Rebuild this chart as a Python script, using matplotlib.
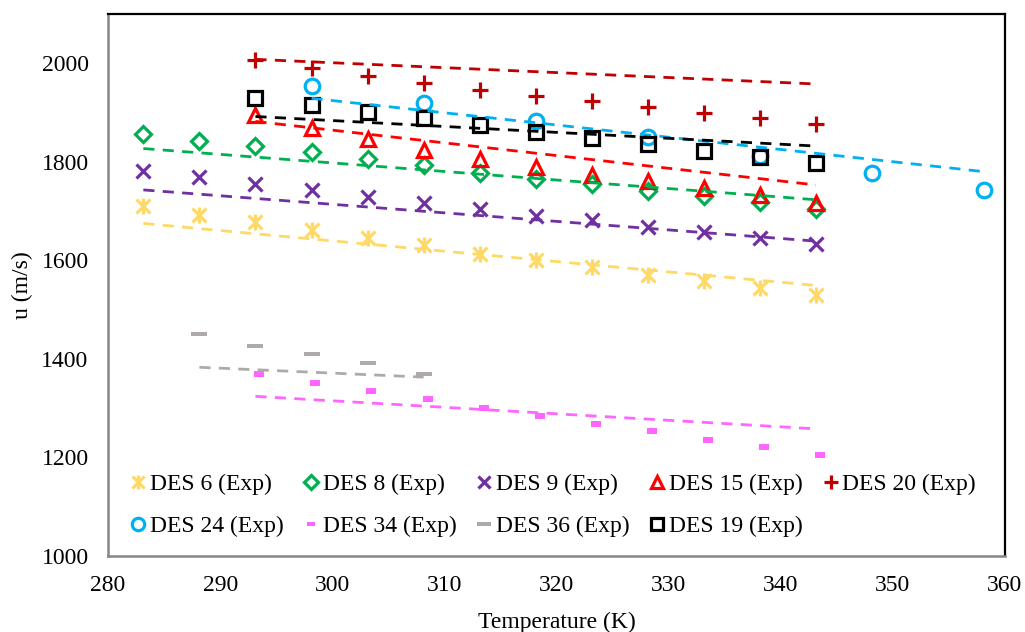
import matplotlib
matplotlib.use("Agg")
import matplotlib.pyplot as plt

plt.rcParams['font.family'] = ['Liberation Serif', 'DejaVu Serif']

# temperatures (K)
T13 = [283.15, 288.15, 293.15, 298.15, 303.15, 308.15, 313.15, 318.15,
       323.15, 328.15, 333.15, 338.15, 343.15]
T11 = T13[2:]
T_des24 = [298.15, 308.15, 318.15, 328.15, 338.15, 348.15, 358.15]
T_des34 = [293.5, 298.5, 303.5, 308.5, 313.5, 318.5, 323.5, 328.5, 333.5, 338.5, 343.5]
T_des36 = [288.15, 293.15, 298.15, 303.15, 308.15]

# measured speed of sound (m/s)
u_des6 = [1710, 1693, 1677, 1661, 1646, 1632, 1612, 1600, 1587, 1571, 1558, 1544, 1529]
u_des8 = [1856, 1843, 1832, 1819, 1805, 1793, 1778, 1766, 1754, 1741, 1730, 1718, 1705]
u_des9 = [1781, 1769, 1756, 1743, 1729, 1717, 1705, 1691, 1681, 1667, 1658, 1646, 1634]
u_des15 = [1896, 1869, 1846, 1824, 1805, 1790, 1774, 1761, 1746, 1732, 1716]
u_des20 = [2007, 1990, 1974, 1959, 1946, 1934, 1923, 1912, 1900, 1888, 1876]
u_des24 = [1953, 1919, 1883, 1851, 1811, 1777, 1742]
u_des34 = [1369, 1352, 1334, 1318, 1301, 1285, 1268, 1253, 1236, 1221, 1205]
u_des36 = [1451, 1427, 1409, 1392, 1370]
u_des19 = [1930, 1915, 1901, 1888, 1874, 1860, 1849, 1837, 1823, 1810, 1798]

# model lines: (T start, T end), (u start, u end)
model = {
    'DES 6': ((283.15, 343.15), (1675, 1549)),
    'DES 8': ((283.15, 343.15), (1827, 1723)),
    'DES 9': ((283.15, 343.15), (1743, 1639)),
    'DES 15': ((293.15, 343.15), (1882, 1753)),
    'DES 20': ((293.15, 343.15), (2008, 1958)),
    'DES 24': ((298.15, 358.15), (1929, 1780)),
    'DES 34': ((293.15, 343.15), (1324, 1258)),
    'DES 36': ((288.15, 308.15), (1383, 1363)),
    'DES 19': ((293.15, 343.15), (1892, 1832)),
}

dash_wide = [(-1, -0.3), (1, -0.3), (1, 0.3), (-1, 0.3)]
dash_short = [(-1, -0.55), (1, -0.55), (1, 0.55), (-1, 0.55)]

series = [
    # name, T, u, marker, size, colour, hollow
    ('DES 6', T13, u_des6, 'x', 9.5, '#FFD966', True),
    ('DES 8', T13, u_des8, 'D', 8.5, '#00B050', True),
    ('DES 9', T13, u_des9, 'x', 10, '#7030A0', True),
    ('DES 15', T11, u_des15, '^', 10, '#FF0000', True),
    ('DES 20', T11, u_des20, '+', 12, '#C00000', True),
    ('DES 24', T_des24, u_des24, 'o', 10.5, '#00B0F0', True),
    ('DES 34', T_des34, u_des34, dash_short, 7.5, '#FF66FF', False),
    ('DES 36', T_des36, u_des36, dash_wide, 11.5, '#AEAAAA', False),
    ('DES 19', T11, u_des19, 's', 10, '#000000', True),
]

fig = plt.figure(figsize=(10.25, 6.32), dpi=100)
ax = fig.add_axes([0.1054, 0.1203, 0.875, 0.8575])

handles = {}
for name, T, u, mk, ms, col, hollow in series:
    if hollow:
        h, = ax.plot(T, u, ls='none', marker=mk, ms=ms, mfc='none', mec=col, mew=2.3, zorder=3)
    else:
        h, = ax.plot(T, u, ls='none', marker=mk, ms=ms, mfc=col, mec=col, mew=0, zorder=3)
    if name == 'DES 6':
        # star marker = x plus a vertical bar
        bar, = ax.plot(T, u, ls='none', marker='|', ms=11.5, mec=col, mew=2.3, zorder=3)
        h = (h, bar)
    handles[name] = h
    (t0, t1), (v0, v1) = model[name]
    ax.plot([t0, t1], [v0, v1], color=col, lw=2, dashes=(4, 3), zorder=4)

ax.set_xlim(280, 360)
ax.set_ylim(1000, 2100)
ax.set_xticks(range(280, 361, 10))
ax.set_yticks(range(1000, 2001, 200))
ax.tick_params(length=0, labelsize=17, pad=14)

for s in ('left', 'bottom'):
    ax.spines[s].set_color('#868686')
    ax.spines[s].set_linewidth(1.8)
for s in ('top', 'right'):
    ax.spines[s].set_color('black')
    ax.spines[s].set_linewidth(1.6)

ax.set_xlabel('Temperature (K)', fontsize=17, labelpad=11)
ax.set_ylabel('u (m/s)', fontsize=17, labelpad=6)

# excel-style legend: 5 per row, filled column by column
order = ['DES 6', 'DES 24', 'DES 8', 'DES 34', 'DES 9', 'DES 36', 'DES 15', 'DES 19', 'DES 20']
ax.legend([handles[n] for n in order], [n + ' (Exp)' for n in order],
          ncol=5, loc='lower left', bbox_to_anchor=(0.0256, 0.035),
          frameon=False, fontsize=17, borderpad=0, handlelength=0.6,
          handletextpad=0.2, columnspacing=0.87, labelspacing=0.85,
          borderaxespad=0, markerscale=0.85)

fig.savefig('out.png', dpi=100)
